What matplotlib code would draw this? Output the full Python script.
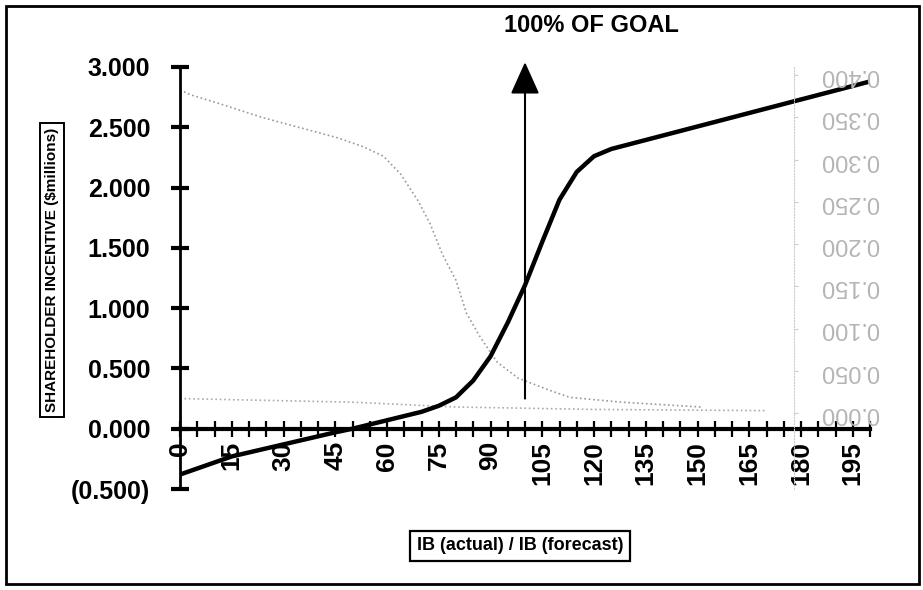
import numpy as np
import matplotlib.pyplot as plt
from matplotlib.ticker import MultipleLocator, FuncFormatter
from matplotlib.patches import Rectangle

plt.rcParams['font.family'] = ['Liberation Sans', 'DejaVu Sans']

# shareholder incentive ($ millions) against IB actual / forecast (%)
ratio = [0, 15, 30, 45, 50, 60, 70, 75, 80, 85, 90, 95, 100, 105, 110, 115, 120, 125, 200]
incentive = [-0.38, -0.23, -0.13, -0.03, 0.0, 0.07, 0.14, 0.19, 0.26, 0.40, 0.60, 0.88,
             1.19, 1.55, 1.90, 2.13, 2.26, 2.32, 2.88]

# faint dotted companion curves
ratio_b = [0, 3, 11, 24, 37, 46, 53, 59, 64, 69, 72.5, 76, 80, 83, 87, 92, 98, 107, 113, 128, 151]
curve_b = [2.81, 2.77, 2.70, 2.58, 2.48, 2.41, 2.34, 2.26, 2.11, 1.89, 1.70, 1.45, 1.23,
           0.96, 0.76, 0.55, 0.42, 0.32, 0.26, 0.22, 0.18]
ratio_c = [0, 50, 80, 120, 170]
curve_c = [0.25, 0.22, 0.18, 0.16, 0.15]

right_ticks = [0.0, 0.05, 0.10, 0.15, 0.20, 0.25, 0.30, 0.35, 0.40]

goal = 100

fig = plt.figure(figsize=(9.23, 5.9), dpi=100)
ax = fig.add_axes([180 / 923, 101 / 590, 690 / 923, 422 / 590])

ax.plot(ratio_b, curve_b, ':', color='#999999', lw=1.2)
ax.plot(ratio_c, curve_c, ':', color='#aaaaaa', lw=1.2)
ax.plot(ratio, incentive, color='black', lw=3.2, solid_capstyle='round')

ax.set_xlim(0, 200)
ax.set_ylim(-0.5, 3.0)

for s in ['top', 'right']:
    ax.spines[s].set_visible(False)
ax.spines['bottom'].set_position(('data', 0))
ax.spines['bottom'].set_linewidth(3)
ax.spines['left'].set_linewidth(2)

ax.xaxis.set_major_locator(MultipleLocator(15))
ax.xaxis.set_minor_locator(MultipleLocator(5))
ax.yaxis.set_major_locator(MultipleLocator(0.5))


def money(v, pos):
    if v < 0:
        return '({:.3f})'.format(-v)
    return '{:.3f}'.format(v)


ax.yaxis.set_major_formatter(FuncFormatter(money))
ax.tick_params(axis='y', direction='inout', length=13, width=3, pad=15, labelsize=18)
ax.tick_params(axis='x', which='both', direction='inout', length=12, width=1.6)
ax.tick_params(axis='x', which='major', pad=3, labelsize=19, labelrotation=90)
for lab in ax.get_xticklabels() + ax.get_yticklabels():
    lab.set_fontweight('bold')

# goal marker
ax.annotate('', xy=(goal, 3.04), xytext=(goal, 0.25), annotation_clip=False,
            arrowprops=dict(arrowstyle='-|>,head_length=1.0,head_width=0.45',
                            mutation_scale=20, lw=1.5, color='black',
                            shrinkA=0, shrinkB=0))
fig.text(591 / 923, 1 - 26 / 590, '100% OF GOAL', ha='center', va='center',
         fontsize=17, fontweight='bold')

# faint right-hand scale
ax2 = ax.twinx()
step_px = 42.25
lo = -(0.05 / step_px) * (489 - 413)
hi = 0.40 + (0.05 / step_px) * (75 - 67)
ax2.set_ylim(lo, hi)
ax2.set_yticks(right_ticks)
ax2.yaxis.set_major_formatter(FuncFormatter(lambda v, p: '{:.3f}'.format(v)))
for s in ['top', 'left', 'bottom']:
    ax2.spines[s].set_visible(False)
ax2.spines['right'].set_position(('data', 178))
ax2.spines['right'].set_linestyle(':')
ax2.spines['right'].set_color('#cccccc')
ax2.tick_params(axis='y', length=3, color='#cccccc', pad=16, labelsize=17,
                labelcolor='#b5b5b5')
for lab in ax2.get_yticklabels():
    lab.set_rotation(180)
    lab.set_va('center')

# boxed axis titles
fig.text(52 / 923, 1 - 270 / 590, 'SHAREHOLDER INCENTIVE ($millions)',
         rotation=90, ha='center', va='center', fontweight='bold',
         family=['Liberation Sans Narrow', 'Liberation Sans'], fontsize=11,
         bbox=dict(boxstyle='square,pad=0.3', fc='white', ec='black', lw=1.4))
fig.text(520 / 923, 1 - 546 / 590, 'IB (actual) / IB (forecast)',
         ha='center', va='center', fontsize=13, fontweight='bold',
         bbox=dict(boxstyle='square,pad=0.35', fc='white', ec='black', lw=1.6))

# page frame
fig.patches.append(Rectangle((6 / 923, 6 / 590), 913 / 923, 578 / 590,
                             transform=fig.transFigure, fill=False,
                             ec='black', lw=2))

fig.savefig('out.png', dpi=100)
